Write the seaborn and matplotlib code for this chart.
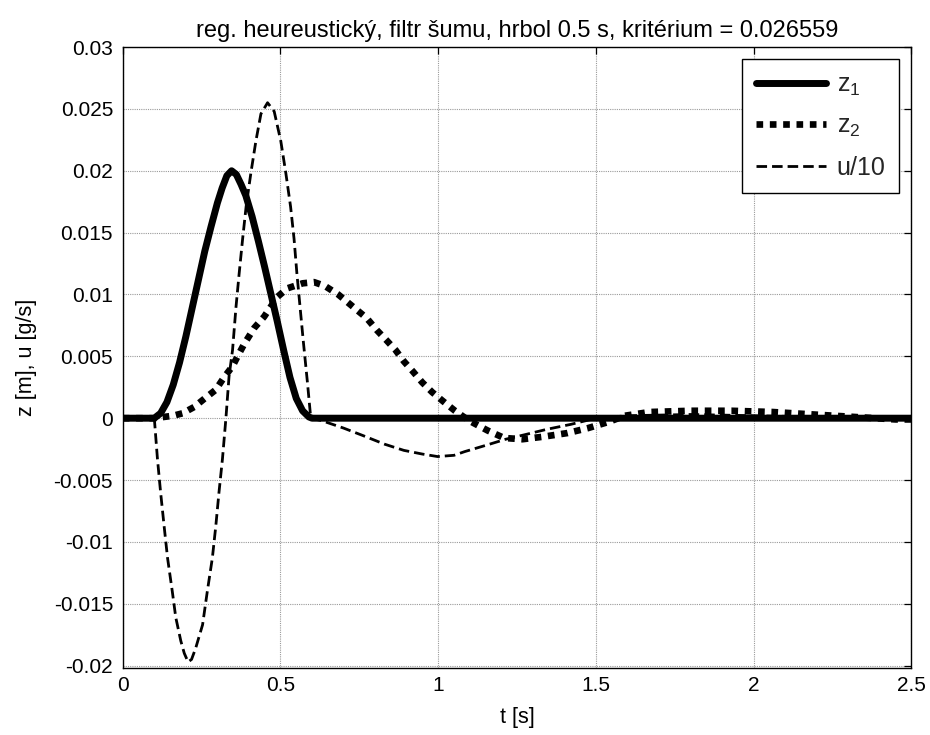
import numpy as np
import pandas as pd
import matplotlib
matplotlib.use("Agg")
import matplotlib.pyplot as plt
import seaborn as sns

# ---- data ----
t_z1 = [0.0, 0.10, 0.12, 0.14, 0.16, 0.18, 0.20, 0.22, 0.24, 0.26, 0.28, 0.30, 0.315,
        0.33, 0.345, 0.36, 0.375, 0.39, 0.41, 0.43, 0.45, 0.47, 0.49, 0.51, 0.53, 0.55,
        0.57, 0.59, 0.60, 2.5]
z1 = [0.0, 0.0, 0.0004, 0.0013, 0.0027, 0.0045, 0.0066, 0.0089, 0.0112, 0.0135, 0.0155,
      0.0174, 0.0186, 0.0196, 0.0200, 0.0197, 0.0189, 0.0180, 0.0163, 0.0143, 0.0122,
      0.0100, 0.0078, 0.0055, 0.0033, 0.0016, 0.0006, 0.0001, 0.0, 0.0]

t_z2 = [0.0, 0.10, 0.13, 0.16, 0.19, 0.226, 0.26, 0.295, 0.321, 0.348, 0.364, 0.385,
        0.417, 0.448, 0.469, 0.49, 0.522, 0.57, 0.606, 0.64, 0.683, 0.735, 0.773, 0.806,
        0.836, 0.865, 0.891, 0.919, 0.949, 0.981, 1.014, 1.053, 1.098, 1.157, 1.209,
        1.267, 1.332, 1.41, 1.475, 1.54, 1.592, 1.67, 1.8, 1.93, 2.06, 2.19, 2.32, 2.45, 2.5]
z2 = [0.0, 0.0, 0.0001, 0.0002, 0.0004, 0.0009, 0.0016, 0.0023, 0.0033, 0.0042, 0.0050,
      0.0060, 0.0073, 0.0082, 0.0090, 0.0098, 0.0105, 0.0109, 0.0110, 0.0107, 0.0100,
      0.0089, 0.0081, 0.0071, 0.0063, 0.0055, 0.0046, 0.0038, 0.0029, 0.0021, 0.0014,
      0.0006, -0.0002, -0.0010, -0.0016, -0.0017, -0.0015, -0.0012, -0.0008, -0.0003,
      0.0002, 0.0005, 0.0006, 0.0006, 0.0005, 0.0003, 0.0001, -0.0001, -0.0001]

t_u = [0.0, 0.10, 0.11, 0.12, 0.131, 0.142, 0.157, 0.168, 0.184, 0.195, 0.207, 0.218,
       0.231, 0.253, 0.268, 0.284, 0.295, 0.305, 0.316, 0.327, 0.337, 0.348, 0.359,
       0.369, 0.38, 0.391, 0.406, 0.422, 0.438, 0.459, 0.48, 0.501, 0.517, 0.532, 0.543,
       0.552, 0.562, 0.572, 0.585, 0.596, 0.631, 0.70, 0.761, 0.83, 0.891, 0.95, 0.998,
       1.05, 1.084, 1.15, 1.214, 1.28, 1.344, 1.42, 1.5, 1.6, 1.8, 2.0, 2.2, 2.35, 2.5]
u10 = [0.0, 0.0, -0.0033, -0.0060, -0.0087, -0.0113, -0.0140, -0.0161, -0.0180, -0.0190,
       -0.0197, -0.0195, -0.0186, -0.0167, -0.0140, -0.0113, -0.0087, -0.0060, -0.0033,
       0.0, 0.0034, 0.0055, 0.0090, 0.0117, 0.0145, 0.0171, 0.0198, 0.0224, 0.0246,
       0.0255, 0.0248, 0.0224, 0.0198, 0.0171, 0.0145, 0.0117, 0.0090, 0.0063, 0.0030,
       0.0, -0.0002, -0.0008, -0.0014, -0.0021, -0.0026, -0.0029, -0.0031, -0.0030,
       -0.0027, -0.0022, -0.0017, -0.0013, -0.0009, -0.0005, 0.0, 0.0002, 0.0003,
       0.0002, 0.0001, 0.0, -0.0001]

labels = ["z$_1$", "z$_2$", "u/10"]
x_ticks = [0, 0.5, 1, 1.5, 2, 2.5]
x_ticklabels = ["0", "0.5", "1", "1.5", "2", "2.5"]
y_ticks = [0.03, 0.025, 0.02, 0.015, 0.01, 0.005, 0, -0.005, -0.01, -0.015, -0.02]
y_ticklabels = ["0.03", "0.025", "0.02", "0.015", "0.01", "0.005", "0",
                "-0.005", "-0.01", "-0.015", "-0.02"]
title = "reg. heureustický, filtr šumu, hrbol 0.5 s, kritérium = 0.026559"

# ---- style ----
sns.set_theme(style="white")
plt.rcParams["font.family"] = ["Liberation Sans", "DejaVu Sans"]
plt.rcParams["mathtext.default"] = "regular"

fig = plt.figure(figsize=(9.3, 7.35), dpi=100)
ax = fig.add_axes([0.132, 0.091, 0.848, 0.845])

df1 = pd.DataFrame({"t": t_z1, "v": z1})
df2 = pd.DataFrame({"t": t_z2, "v": z2})
df3 = pd.DataFrame({"t": t_u, "v": u10})

sns.lineplot(data=df1, x="t", y="v", ax=ax, color="black", lw=5.0,
             solid_joinstyle="round", label=labels[0], sort=False)
sns.lineplot(data=df2, x="t", y="v", ax=ax, color="black", lw=4.8,
             linestyle=(0, (1, 1)), label=labels[1], sort=False)
sns.lineplot(data=df3, x="t", y="v", ax=ax, color="black", lw=2.0,
             linestyle=(0, (3.8, 1.8)), label=labels[2], sort=False)

ax.set_xlim(0, 2.5)
ax.set_ylim(-0.0202, 0.03)
ax.set_xticks(x_ticks)
ax.set_xticklabels(x_ticklabels)
ax.set_yticks(y_ticks)
ax.set_yticklabels(y_ticklabels)
ax.tick_params(direction="in", length=5, width=0.9, top=True, right=True,
               labelsize=15, colors="black", pad=7)
ax.tick_params(axis="x", pad=6)
for s in ax.spines.values():
    s.set_color("black")
    s.set_linewidth(1.0)
    s.set_visible(True)
ax.grid(True, linestyle=(0, (1, 1)), color="#9a9a9a", lw=0.8)
ax.set_axisbelow(True)

ax.set_xlabel("t [s]", fontsize=15.5, color="black", labelpad=8)
ax.set_ylabel("z [m], u [g/s]", fontsize=15.5, color="black", labelpad=12)
ax.set_title(title, fontsize=17, color="black", pad=7)

leg = ax.legend(loc="upper right", fontsize=18, frameon=True, fancybox=False,
                edgecolor="black", facecolor="white", framealpha=1,
                handlelength=2.8, borderaxespad=0.48, labelspacing=0.65,
                borderpad=0.55, handletextpad=0.45)
leg.get_frame().set_linewidth(1.0)

fig.savefig("out.png", dpi=100)
